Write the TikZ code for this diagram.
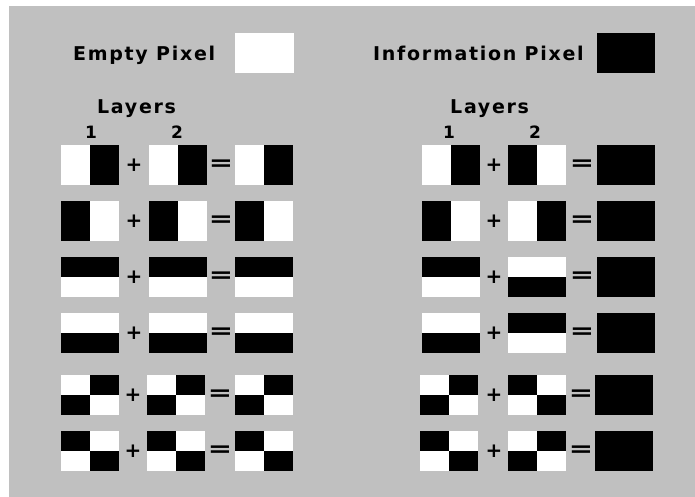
\documentclass[tikz,border=0pt]{standalone}
\usepackage{fontspec}
\newfontfamily\lblfont[LetterSpace=9]{DejaVu Sans Bold}
\definecolor{panel}{HTML}{C0C0C0}
\tikzset{
  lbl/.style={font=\lblfont\fontsize{19}{19}\selectfont, inner sep=0pt, anchor=base west},
  num/.style={font=\lblfont\fontsize{17}{17}\selectfont, inner sep=0pt, anchor=base},
  op/.style={font=\fontspec{DejaVu Sans Bold}\fontsize{20}{20}\selectfont, inner sep=0pt},
  patR/.pic={\fill[white] (0,0) rectangle (58,40); \fill[black] (29,0) rectangle (58,40);},
  patL/.pic={\fill[white] (0,0) rectangle (58,40); \fill[black] (0,0) rectangle (29,40);},
  patT/.pic={\fill[white] (0,0) rectangle (58,40); \fill[black] (0,0) rectangle (58,20);},
  patB/.pic={\fill[white] (0,0) rectangle (58,40); \fill[black] (0,20) rectangle (58,40);},
  patC/.pic={\fill[white] (0,0) rectangle (58,40); \fill[black] (29,0) rectangle (58,20); \fill[black] (0,20) rectangle (29,40);},
  patD/.pic={\fill[white] (0,0) rectangle (58,40); \fill[black] (0,0) rectangle (29,20); \fill[black] (29,20) rectangle (58,40);},
  patF/.pic={\fill[black] (0,0) rectangle (58,40);},
}
\newcommand\plusop[2]{\node[op] at (#1,#2) {+};}
\newcommand\eqop[2]{\node[op] at (#1,#2) {\scalebox{1.45}[1.1]{=}};}
\begin{document}
\begin{tikzpicture}[x=1pt,y=-1pt]
\useasboundingbox (0,0) rectangle (695,497);
\fill[panel] (9,6) rectangle (695,497);
% legend
\node[lbl] (empty) at (73,61) {Empty Pixel};
\fill[white] (235,33) rectangle (294,73);
\node[lbl] (info) at (373,61) {Information Pixel};
\fill[black] (597,33) rectangle (655,73);
% headers
\node[lbl] (layL) at (97,114) {Layers};
\node[num] (l1) at (91,138.5) {1};
\node[num] (l2) at (177,138.5) {2};
\node[lbl] (layR) at (450,114) {Layers};
\node[num] (r1) at (449,138.5) {1};
\node[num] (r2) at (535,138.5) {2};
% left rows
\foreach \y/\p in {145/patR,201/patL,257/patT,313/patB}{
  \pic at (61,\y) {\p}; \pic at (149,\y) {\p}; \pic at (235,\y) {\p};
  \plusop{134}{\y+20}\eqop{221}{\y+20}
}
\foreach \y/\p in {375/patC,431/patD}{
  \pic at (61,\y) {\p}; \pic at (147,\y) {\p}; \pic at (235,\y) {\p};
  \plusop{133}{\y+20}\eqop{220}{\y+20}
}
% right rows
\foreach \y/\p/\q in {145/patR/patL,201/patL/patR,257/patT/patB,313/patB/patT}{
  \pic at (422,\y) {\p}; \pic at (508,\y) {\q}; \pic at (597,\y) {patF};
  \plusop{494}{\y+20}\eqop{582}{\y+20}
}
\foreach \y/\p/\q in {375/patC/patD,431/patD/patC}{
  \pic at (420,\y) {\p}; \pic at (508,\y) {\q}; \pic at (595,\y) {patF};
  \plusop{494}{\y+20}\eqop{581}{\y+20}
}
\end{tikzpicture}
\end{document}
